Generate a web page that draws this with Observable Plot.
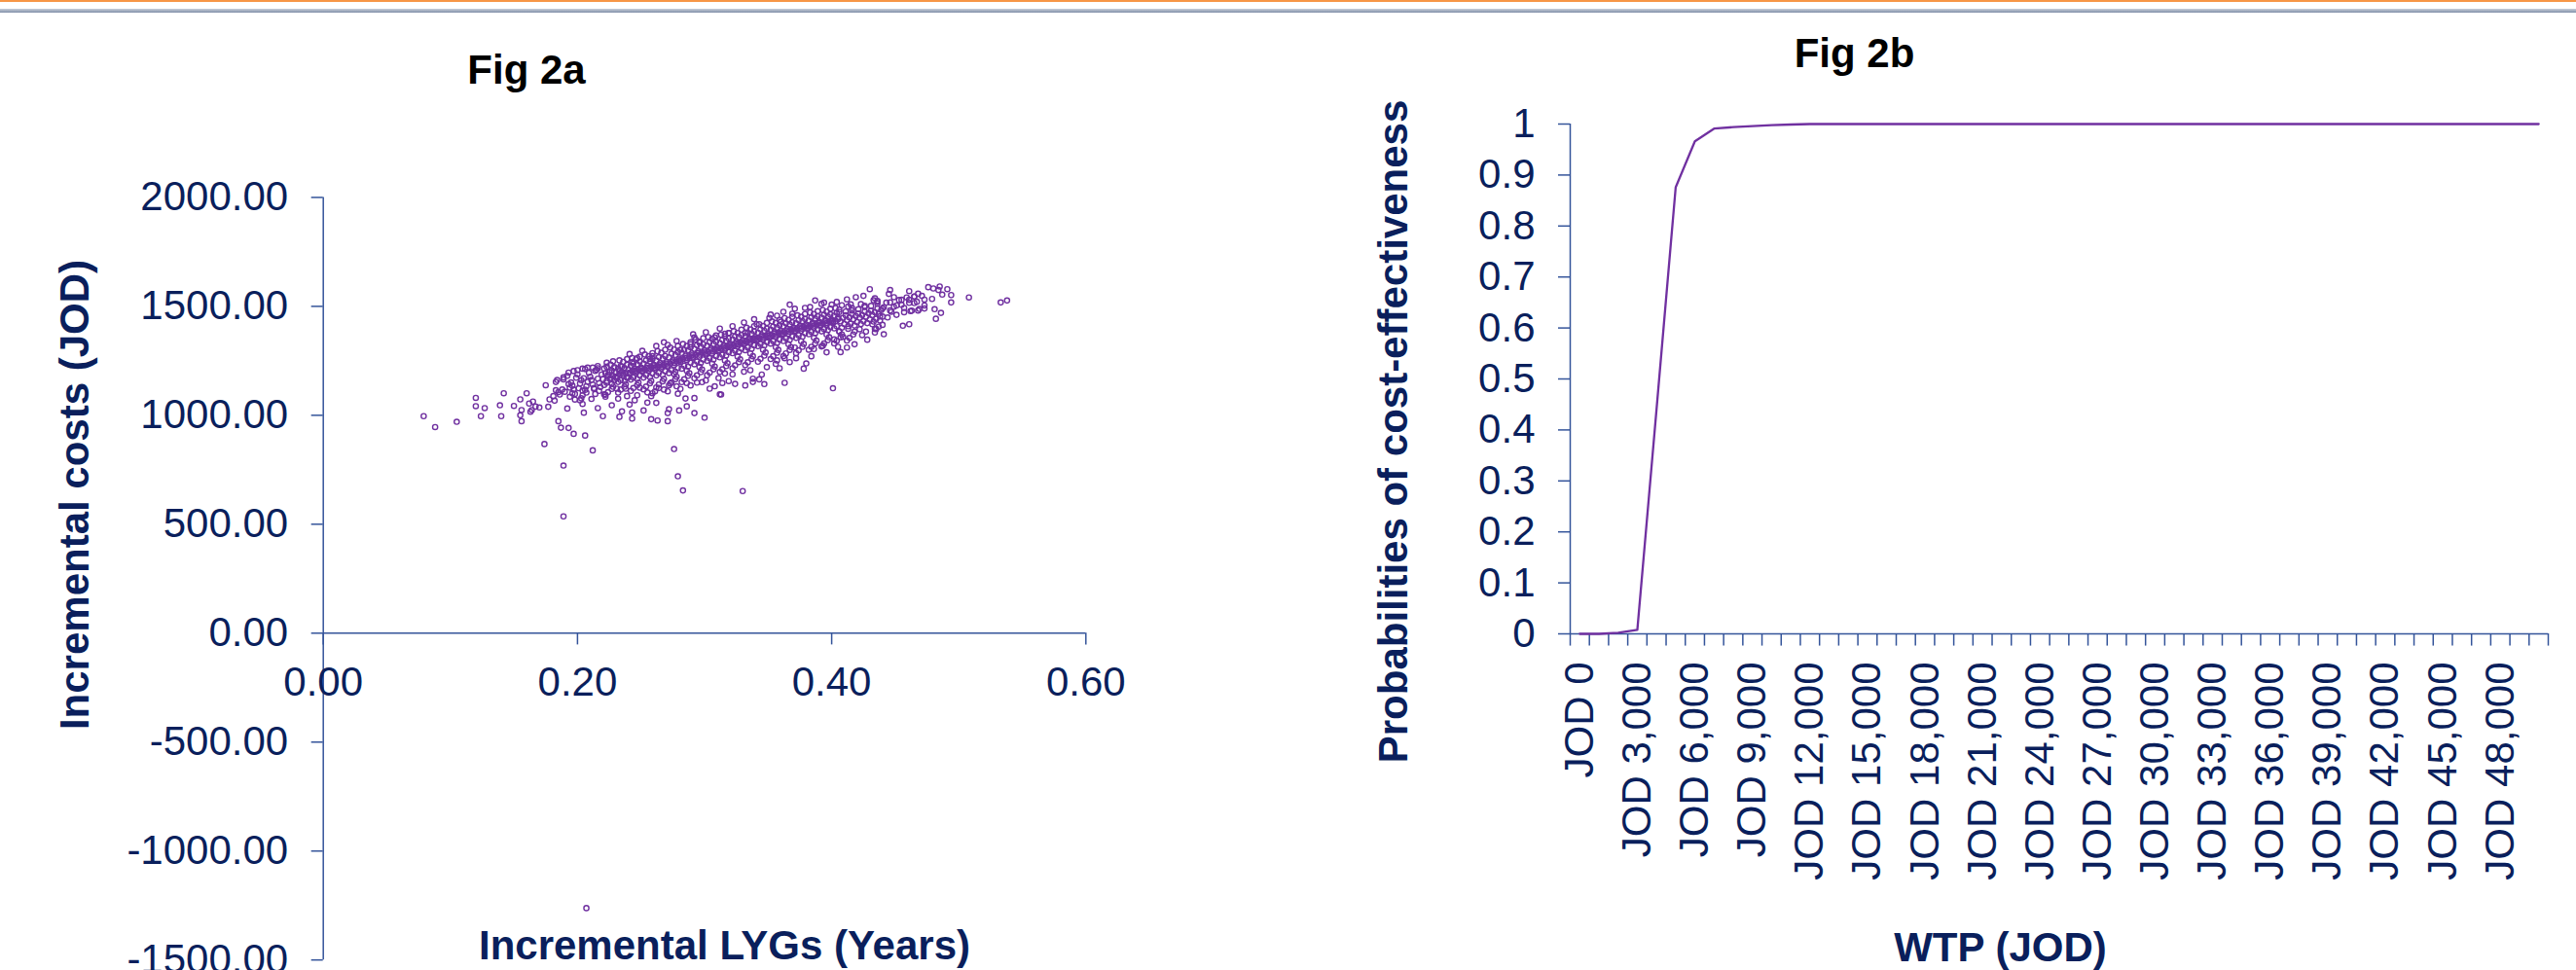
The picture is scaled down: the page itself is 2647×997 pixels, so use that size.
<!DOCTYPE html>
<html><head><meta charset="utf-8">
<script src="https://cdn.jsdelivr.net/npm/d3@7"></script>
<script src="https://cdn.jsdelivr.net/npm/@observablehq/plot@0.6"></script>
<style>
html,body{margin:0;padding:0;background:#fff;overflow:hidden;}
#page{position:relative;width:2647px;height:997px;}
.bar1{position:absolute;left:0;top:0;width:2647px;height:2px;background:#f79646;}
.bar2{position:absolute;left:0;top:9px;width:2647px;height:4px;background:linear-gradient(#c9d0da,#7f8ea8);}
#figA{position:absolute;left:0;top:0;}
#figB{position:absolute;left:1300px;top:0;}
svg{overflow:visible;}
</style></head><body>
<div id="page"><div class="bar1"></div><div class="bar2"></div><div id="figA"></div><div id="figB"></div></div>
<script>
// ---------- Fig 2a data: incremental LYGs (years) vs incremental costs (JOD) ----------
const scatterLeft = [[0.079,996],[0.088,946],[0.105,970],[0.120,1080],[0.120,1042],[0.127,1033],[0.124,996],[0.139,1046],[0.142,1101],[0.140,996],[0.150,1043],[0.155,1073],[0.156,1024],[0.155,1000],[0.156,973],[0.160,1101],[0.162,1054],[0.165,1063],[0.163,1016],[0.164,1024],[0.167,1040],[0.170,1036],[0.175,1138],[0.177,1039],[0.178,1073],[0.181,1088],[0.183,1153],[0.184,1162],[0.183,1115],[0.185,1106],[0.186,1095],[0.188,1118],[0.185,973],[0.187,943],[0.189,1174],[0.182,1067]];
const scatterLower = [[0.193,942],[0.197,915],[0.206,907],[0.192,1031],[0.205,1012],[0.216,1033],[0.220,996],[0.227,1046],[0.233,993],[0.235,1018],[0.243,985],[0.243,1013],[0.252,1022],[0.258,982],[0.263,976],[0.271,973],[0.271,1010],[0.272,1028],[0.280,1022],[0.286,1041],[0.292,1010],[0.300,989],[0.292,1079],[0.285,1077],[0.279,1099],[0.271,1110],[0.255,1058],[0.262,1057],[0.241,1049],[0.239,1088],[0.245,1069],[0.221,1096],[0.222,1085],[0.211,1075],[0.204,1052],[0.202,1069],[0.238,1122],[0.231,1122],[0.249,1127],[0.255,1105],[0.258,1088],[0.261,1110],[0.264,1125],[0.273,1146],[0.278,1133],[0.286,1148],[0.294,1150],[0.298,1152],[0.304,1122],[0.308,1133],[0.312,1096],[0.314,1148],[0.319,1157],[0.363,1149],[0.347,1143],[0.343,1165],[0.345,1187],[0.338,1168],[0.338,1153],[0.332,1137],[0.324,1144],[0.316,1192],[0.331,1200],[0.313,1095],[0.378,1214],[0.380,1238],[0.359,1216],[0.367,1244],[0.363,1262],[0.357,1252],[0.407,1290],[0.412,1311],[0.405,1314],[0.393,1319],[0.386,1304],[0.371,1311],[0.402,1348],[0.409,1360],[0.406,1385],[0.413,1397],[0.434,1397],[0.440,1415],[0.435,1396],[0.456,1411],[0.461,1418]];
const bandLow = [[0.190,1108],[0.193,1143],[0.189,1165],[0.194,1127],[0.192,1181],[0.197,1119],[0.195,1151],[0.199,1172],[0.196,1136],[0.198,1098],[0.201,1124],[0.203,1161],[0.200,1188],[0.204,1113],[0.202,1146],[0.207,1133],[0.205,1170],[0.209,1195],[0.206,1117],[0.208,1154],[0.212,1141],[0.210,1177],[0.214,1204],[0.213,1125],[0.211,1162],[0.217,1148],[0.219,1187],[0.215,1209],[0.218,1130],[0.216,1168],
[0.221,1139],[0.223,1157],[0.220,1166],[0.224,1179],[0.222,1193],[0.225,1199],[0.221,1214],[0.223,1149],[0.224,1186],
[0.227,1145],[0.229,1160],[0.226,1172],[0.228,1181],[0.230,1196],[0.227,1206],[0.229,1221],[0.226,1164],[0.230,1177],
[0.232,1153],[0.234,1161],[0.231,1178],[0.233,1190],[0.235,1198],[0.232,1215],[0.234,1226],[0.231,1169],[0.233,1203],
[0.237,1157],[0.239,1172],[0.236,1184],[0.238,1193],[0.240,1209],[0.237,1217],[0.239,1232],[0.236,1190],[0.240,1175],
[0.242,1164],[0.244,1174],[0.241,1190],[0.243,1203],[0.245,1212],[0.242,1228],[0.244,1237],[0.241,1196],[0.245,1205],
[0.247,1167],[0.249,1183],[0.246,1193],[0.248,1209],[0.250,1219],[0.247,1234],[0.249,1247],[0.246,1201],[0.250,1213],
[0.252,1173],[0.254,1185],[0.251,1200],[0.253,1211],[0.255,1227],[0.252,1237],[0.254,1252],[0.251,1206],[0.255,1218],
[0.257,1176],[0.259,1192],[0.256,1204],[0.258,1220],[0.260,1231],[0.257,1247],[0.259,1258],[0.256,1213],[0.260,1225]];
const bandMid = [[0.262,1183],[0.264,1195],[0.261,1211],[0.263,1223],[0.265,1239],[0.262,1251],[0.264,1267],[0.261,1218],[0.265,1230],
[0.267,1186],[0.269,1203],[0.266,1215],[0.268,1231],[0.270,1244],[0.267,1260],[0.269,1272],[0.266,1224],[0.270,1237],
[0.272,1194],[0.274,1207],[0.271,1224],[0.273,1237],[0.275,1253],[0.272,1266],[0.274,1283],[0.271,1229],[0.275,1247],
[0.277,1200],[0.279,1217],[0.276,1230],[0.278,1247],[0.280,1260],[0.277,1277],[0.279,1290],[0.276,1240],[0.280,1253],
[0.282,1214],[0.284,1227],[0.281,1244],[0.283,1257],[0.285,1273],[0.282,1286],[0.284,1301],[0.281,1251],[0.285,1264],
[0.287,1224],[0.289,1241],[0.286,1253],[0.288,1270],[0.290,1283],[0.287,1299],[0.289,1312],[0.286,1262],[0.290,1275],
[0.292,1234],[0.294,1247],[0.291,1264],[0.293,1277],[0.295,1293],[0.292,1305],[0.294,1322],[0.291,1269],[0.295,1286],
[0.297,1240],[0.299,1256],[0.296,1269],[0.298,1286],[0.300,1298],[0.297,1314],[0.299,1326],[0.296,1278],[0.300,1291],
[0.302,1250],[0.304,1262],[0.301,1279],[0.303,1291],[0.305,1307],[0.302,1319],[0.304,1335],[0.301,1284],[0.305,1300],
[0.307,1256],[0.309,1272],[0.306,1284],[0.308,1300],[0.310,1311],[0.307,1327],[0.309,1338],[0.306,1293],[0.310,1305],
[0.312,1266],[0.314,1278],[0.311,1293],[0.313,1305],[0.315,1320],[0.312,1331],[0.314,1346],[0.311,1298],[0.315,1314],
[0.317,1275],[0.319,1290],[0.316,1301],[0.318,1316],[0.320,1327],[0.317,1342],[0.319,1352],[0.316,1309],[0.320,1320],
[0.322,1285],[0.324,1296],[0.321,1311],[0.323,1322],[0.325,1337],[0.322,1348],[0.324,1362],[0.321,1315],[0.325,1330],
[0.327,1291],[0.329,1306],[0.326,1317],[0.328,1332],[0.330,1343],[0.327,1358],[0.329,1369],[0.326,1325],[0.330,1336],
[0.332,1299],[0.334,1311],[0.331,1327],[0.333,1338],[0.335,1353],[0.332,1364],[0.334,1379],[0.331,1331],[0.335,1346],
[0.337,1305],[0.339,1321],[0.336,1333],[0.338,1348],[0.340,1359],[0.337,1374],[0.339,1385],[0.336,1341],[0.340,1352]];
const bandHigh = [[0.342,1317],[0.344,1328],[0.341,1343],[0.343,1354],[0.345,1368],[0.342,1379],[0.344,1394],[0.341,1347],[0.345,1362],
[0.347,1321],[0.349,1336],[0.346,1347],[0.348,1362],[0.350,1373],[0.347,1388],[0.349,1398],[0.346,1355],[0.350,1366],
[0.352,1329],[0.354,1340],[0.351,1356],[0.353,1367],[0.355,1382],[0.352,1393],[0.354,1407],[0.351,1360],[0.355,1375],
[0.357,1332],[0.359,1348],[0.356,1360],[0.358,1375],[0.360,1387],[0.357,1402],[0.359,1413],[0.356,1368],[0.360,1380],
[0.362,1341],[0.364,1353],[0.361,1369],[0.363,1381],[0.365,1396],[0.362,1408],[0.364,1422],[0.361,1374],[0.365,1389],
[0.367,1346],[0.369,1362],[0.366,1374],[0.368,1390],[0.370,1401],[0.367,1417],[0.369,1427],[0.366,1383],[0.370,1394],
[0.372,1355],[0.374,1367],[0.371,1383],[0.373,1395],[0.375,1410],[0.372,1422],[0.374,1437],[0.371,1388],[0.375,1403],
[0.377,1361],[0.379,1377],[0.376,1389],[0.378,1405],[0.380,1416],[0.377,1432],[0.379,1442],[0.376,1398],[0.380,1409],
[0.382,1372],[0.384,1383],[0.381,1398],[0.383,1409],[0.385,1424],[0.382,1435],[0.384,1450],[0.381,1403],[0.385,1418],
[0.387,1377],[0.389,1392],[0.386,1403],[0.388,1418],[0.390,1429],[0.387,1444],[0.389,1454],[0.386,1412],[0.390,1423],
[0.392,1385],[0.394,1396],[0.391,1411],[0.393,1422],[0.395,1437],[0.392,1448],[0.394,1461],[0.391,1416],[0.395,1431],
[0.397,1391],[0.399,1405],[0.396,1415],[0.398,1429],[0.400,1439],[0.397,1453],[0.399,1463],[0.396,1423],[0.400,1433],
[0.402,1399],[0.404,1409],[0.401,1423],[0.403,1433],[0.405,1447],[0.402,1457],[0.404,1470],[0.401,1427],[0.405,1441],
[0.408,1402],[0.410,1419],[0.407,1431],[0.409,1447],[0.411,1459],[0.406,1474],
[0.413,1409],[0.415,1421],[0.412,1437],[0.414,1449],[0.416,1465],[0.411,1476],
[0.418,1412],[0.420,1428],[0.417,1440],[0.419,1456],[0.421,1467],[0.416,1481],
[0.423,1419],[0.425,1432],[0.422,1448],[0.424,1460],[0.426,1476],[0.421,1487],
[0.428,1423],[0.430,1440],[0.427,1452],[0.429,1468],[0.431,1480],[0.426,1497],
[0.433,1430],[0.435,1443],[0.432,1460],[0.434,1473],[0.436,1490],[0.431,1502],
[0.438,1435],[0.440,1453],[0.437,1466],[0.439,1483],[0.441,1496],[0.436,1513],
[0.444,1449],[0.446,1481],[0.443,1517],[0.451,1461],[0.449,1498],[0.453,1529],[0.457,1473],[0.455,1507],[0.459,1541],[0.463,1480],[0.461,1516],[0.465,1545],[0.469,1488],[0.467,1521],[0.471,1548]];
const bandOuter = [[0.194,1085],[0.198,1072],[0.196,1101],[0.193,1196],[0.197,1203],
[0.204,1092],[0.207,1104],[0.203,1078],[0.206,1212],[0.208,1219],
[0.214,1098],[0.217,1112],[0.213,1121],[0.216,1226],[0.212,1219],
[0.224,1106],[0.227,1121],[0.222,1094],[0.228,1131],[0.226,1232],[0.223,1241],
[0.234,1118],[0.237,1131],[0.232,1104],[0.238,1142],[0.236,1245],[0.233,1252],[0.239,1258],
[0.244,1125],[0.247,1139],[0.242,1112],[0.248,1150],[0.246,1256],[0.243,1263],[0.249,1269],
[0.254,1132],[0.257,1147],[0.252,1119],[0.258,1158],[0.256,1271],[0.253,1279],[0.259,1285],
[0.264,1141],[0.267,1156],[0.262,1128],[0.268,1167],[0.266,1287],[0.263,1294],[0.269,1301],
[0.274,1151],[0.277,1166],[0.272,1138],[0.278,1177],[0.276,1190],[0.276,1302],[0.273,1311],[0.279,1318],
[0.284,1165],[0.287,1181],[0.282,1152],[0.288,1193],[0.286,1205],[0.286,1318],[0.283,1327],[0.289,1335],
[0.294,1183],[0.297,1198],[0.292,1170],[0.298,1210],[0.296,1222],[0.296,1339],[0.293,1347],[0.299,1354],
[0.304,1196],[0.307,1211],[0.302,1184],[0.308,1224],[0.306,1237],[0.306,1351],[0.303,1359],[0.309,1366],
[0.314,1211],[0.317,1226],[0.312,1199],[0.318,1239],[0.316,1252],[0.316,1362],[0.313,1370],[0.319,1377],
[0.324,1229],[0.327,1244],[0.322,1216],[0.328,1257],[0.326,1270],[0.326,1378],[0.323,1386],[0.329,1393],
[0.334,1243],[0.337,1258],[0.332,1230],[0.338,1271],[0.336,1284],[0.336,1394],[0.333,1402],[0.339,1409],
[0.344,1259],[0.347,1274],[0.342,1246],[0.348,1288],[0.346,1301],[0.346,1410],[0.343,1418],[0.349,1424],
[0.354,1271],[0.357,1287],[0.352,1258],[0.358,1300],[0.356,1313],[0.356,1424],[0.353,1431],[0.359,1438],
[0.364,1284],[0.367,1300],[0.362,1271],[0.368,1313],[0.366,1326],[0.366,1438],[0.363,1446],[0.369,1452],
[0.374,1298],[0.377,1314],[0.372,1285],[0.378,1327],[0.376,1340],[0.376,1452],[0.373,1459],[0.379,1465],
[0.384,1314],[0.387,1330],[0.382,1301],[0.388,1343],[0.386,1356],[0.386,1465],[0.383,1472],[0.389,1478],
[0.394,1329],[0.397,1345],[0.392,1316],[0.398,1358],[0.396,1371],[0.396,1476],[0.393,1483],[0.399,1489],
[0.404,1342],[0.407,1358],[0.402,1330],[0.408,1371],[0.406,1384],[0.406,1485],[0.403,1492],
[0.414,1355],[0.417,1371],[0.412,1343],[0.418,1384],[0.416,1492],[0.413,1499],
[0.424,1368],[0.427,1384],[0.422,1395],[0.426,1502],[0.423,1510],
[0.434,1380],[0.437,1407],[0.432,1418],[0.436,1521],[0.433,1528]];
const scatterRagged = [[0.228,1248],[0.241,1281],[0.251,1296],[0.262,1318],[0.268,1335],[0.278,1341],[0.291,1372],[0.301,1381],[0.312,1398],[0.322,1409],[0.331,1426],[0.339,1441],[0.352,1462],[0.362,1475],[0.371,1489],[0.383,1497],[0.392,1511],[0.404,1520],[0.412,1532],[0.425,1548],
[0.232,1076],[0.247,1092],[0.259,1101],[0.268,1118],[0.281,1121],[0.289,1137],[0.301,1160],[0.311,1171],[0.322,1188],[0.336,1207],[0.349,1221],[0.356,1236],[0.372,1262],[0.384,1271],[0.396,1289],[0.418,1326],[0.428,1347],[0.441,1372]];
const scatterUpper = [[0.200,1207],[0.204,1214],[0.216,1216],[0.223,1223],[0.229,1217],[0.235,1223],[0.243,1244],[0.247,1262],[0.257,1259],[0.259,1271],[0.271,1323],[0.281,1301],[0.289,1326],[0.292,1357],[0.296,1333],[0.308,1357],[0.316,1374],[0.319,1378],[0.332,1378],[0.341,1418],[0.351,1447],[0.357,1457],[0.360,1430],[0.369,1466],[0.367,1508],[0.379,1493],[0.387,1527],[0.394,1517],[0.400,1508],[0.408,1505],[0.415,1509],[0.419,1542],[0.430,1579],[0.434,1537],[0.436,1525],[0.440,1490],[0.438,1454],[0.446,1575],[0.445,1557],[0.449,1542],[0.446,1518],[0.447,1475],[0.451,1504],[0.455,1530],[0.457,1493],[0.461,1570],[0.461,1530],[0.462,1478],[0.465,1545],[0.465,1515],[0.468,1558],[0.468,1481],[0.473,1531],[0.473,1504],[0.473,1490],[0.476,1588],[0.479,1534],[0.480,1582],[0.481,1487],[0.482,1443],[0.484,1575],[0.485,1591],[0.486,1470],[0.487,1554],[0.491,1579],[0.494,1552],[0.494,1518],[0.508,1541],[0.533,1518],[0.538,1527]];
const outliers = [[0.174,868],[0.189,769],[0.189,536],[0.212,839],[0.276,845],[0.279,720],[0.283,655],[0.330,652],[0.401,1124],[0.207,-1262]];
const costTicks = [-1500,-1000,-500,0,500,1000,1500,2000];
const lygTicks = [0,0.2,0.4,0.6];

// ---------- Fig 2b data: cost-effectiveness acceptability curve ----------
const wtpValues = [0,1000,2000,3000,4000,5000,6000,7000,8000,9000,10000,11000,12000,13000,14000,15000,16000,17000,18000,19000,20000,21000,22000,23000,24000,25000,26000,27000,28000,29000,30000,31000,32000,33000,34000,35000,36000,37000,38000,39000,40000,41000,42000,43000,44000,45000,46000,47000,48000,49000,50000];
const probCE = [0,0,0.002,0.008,0.44,0.876,0.966,0.991,0.994,0.996,0.998,0.999,1,1,1,1,1,1,1,1,1,1,1,1,1,1,1,1,1,1,1,1,1,1,1,1,1,1,1,1,1,1,1,1,1,1,1,1,1,1,1];
const wtpTickValues = [0,3000,6000,9000,12000,15000,18000,21000,24000,27000,30000,33000,36000,39000,42000,45000,48000];
const wtpTickLabels = ["JOD 0","JOD 3,000","JOD 6,000","JOD 9,000","JOD 12,000","JOD 15,000","JOD 18,000","JOD 21,000","JOD 24,000","JOD 27,000","JOD 30,000","JOD 33,000","JOD 36,000","JOD 39,000","JOD 42,000","JOD 45,000","JOD 48,000"];
const probTicks = [0,0.1,0.2,0.3,0.4,0.5,0.6,0.7,0.8,0.9,1];
const probTickLabels = ["0","0.1","0.2","0.3","0.4","0.5","0.6","0.7","0.8","0.9","1"];

// ---------- styles ----------
const NAVY = "#0a1f5c", AXIS = "#34549a", PURPLE = "#7030a0";
const FONT = "'Liberation Sans', Arial, sans-serif";
const FS = 42;

const points = [...scatterLeft, ...scatterLower, ...bandOuter, ...scatterRagged, ...bandLow, ...bandMid, ...bandHigh, ...scatterUpper, ...outliers];

const figA = Plot.plot({
  width: 1300, height: 997,
  marginLeft: 331.7, marginRight: 184.7, marginTop: 202.4, marginBottom: 10.8,
  x: {domain: [0, 0.6], axis: null},
  y: {domain: [-1500, 2000], axis: null},
  style: {fontFamily: FONT, fontSize: "42px", background: "transparent", overflow: "visible"},
  marks: [
    Plot.ruleX([0], {y1: -1500, y2: 2000, stroke: AXIS, strokeWidth: 1.5}),
    Plot.ruleY([0], {x1: 0, x2: 0.6, stroke: AXIS, strokeWidth: 1.5}),
    Plot.ruleY(costTicks, {x1: 0, x2: -0.0092, stroke: AXIS, strokeWidth: 1.5}),
    Plot.ruleX(lygTicks, {y1: 0, y2: -54, stroke: AXIS, strokeWidth: 1.5}),
    Plot.text(costTicks, {x: 0, y: d => d, text: d => d.toFixed(2), textAnchor: "end", lineAnchor: "middle", dx: -36, fill: NAVY, fontSize: FS}),
    Plot.text(lygTicks, {x: d => d, y: 0, text: d => d.toFixed(2), textAnchor: "middle", lineAnchor: "middle", dy: 51, fill: NAVY, fontSize: FS}),
    Plot.dot(points, {x: d => d[0], y: d => d[1], r: 2.6, stroke: PURPLE, strokeWidth: 1.4, fill: "none"}),
    Plot.text(["Incremental costs (JOD)"], {text: d => d, frameAnchor: "left", textAnchor: "middle", lineAnchor: "middle", dx: -254.7, dy: -86.3, rotate: -90, fontWeight: "bold", fill: NAVY, fontSize: FS}),
    Plot.text(["Incremental LYGs (Years)"], {text: d => d, frameAnchor: "bottom", textAnchor: "middle", lineAnchor: "middle", dx: 20.5, dy: -14.6, fontWeight: "bold", fill: NAVY, fontSize: FS}),
    Plot.text(["Fig 2a"], {text: d => d, frameAnchor: "top", textAnchor: "middle", lineAnchor: "middle", dx: -183, dy: -130.8, fontWeight: "bold", fill: "#000", fontSize: FS})
  ]
});
document.getElementById("figA").appendChild(figA);

const boundaries = wtpValues.map(v => v - 500).concat([wtpValues[wtpValues.length - 1] + 500]);
const curve = wtpValues.map((v, i) => ({wtp: v, p: probCE[i]}));
const xTickTable = wtpTickValues.map((v, i) => ({v, label: wtpTickLabels[i]}));
const yTickTable = probTicks.map((v, i) => ({v, label: probTickLabels[i]}));

const figB = Plot.plot({
  width: 1347, height: 997,
  marginLeft: 313, marginRight: 29, marginTop: 127, marginBottom: 346,
  x: {domain: [-500, 50500], axis: null},
  y: {domain: [0, 1], axis: null},
  style: {fontFamily: FONT, fontSize: "42px", background: "transparent", overflow: "visible"},
  marks: [
    Plot.ruleX([-500], {y1: 0, y2: 1, stroke: AXIS, strokeWidth: 1.5}),
    Plot.ruleY([0], {x1: -500, x2: 50500, stroke: AXIS, strokeWidth: 1.5}),
    Plot.ruleY(probTicks, {x1: -500, x2: -1109, stroke: AXIS, strokeWidth: 1.5}),
    Plot.ruleX(boundaries, {y1: 0, y2: -0.024, stroke: AXIS, strokeWidth: 1.5}),
    Plot.text(yTickTable, {x: -500, y: "v", text: "label", textAnchor: "end", lineAnchor: "middle", dx: -36, fill: NAVY, fontSize: FS}),
    Plot.text(xTickTable, {x: "v", y: 0, text: "label", rotate: -90, textAnchor: "end", lineAnchor: "middle", dy: 29, fill: NAVY, fontSize: FS}),
    Plot.line(curve, {x: "wtp", y: "p", stroke: PURPLE, strokeWidth: 2.3}),
    Plot.text(["Probabilities of cost-effectiveness"], {text: d => d, frameAnchor: "left", textAnchor: "middle", lineAnchor: "middle", dx: -181, dy: 54, rotate: -90, fontWeight: "bold", fill: NAVY, fontSize: FS}),
    Plot.text(["WTP (JOD)"], {text: d => d, frameAnchor: "bottom", textAnchor: "middle", lineAnchor: "middle", dx: -60.5, dy: 322.6, fontWeight: "bold", fill: NAVY, fontSize: FS}),
    Plot.text(["Fig 2b"], {text: d => d, frameAnchor: "top", textAnchor: "middle", lineAnchor: "middle", dx: -210.5, dy: -72.4, fontWeight: "bold", fill: "#000", fontSize: FS})
  ]
});
document.getElementById("figB").appendChild(figB);
</script>
</body></html>
